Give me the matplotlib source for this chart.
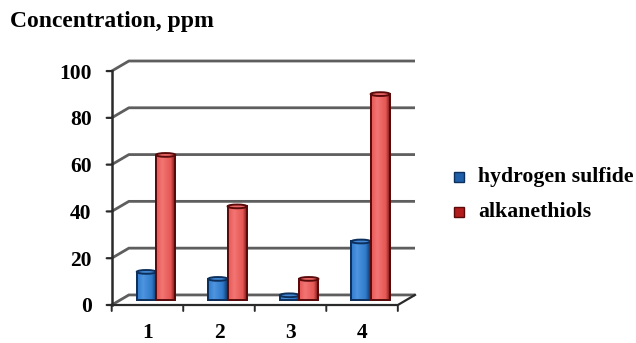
import matplotlib
matplotlib.use("Agg")
import matplotlib.pyplot as plt
import matplotlib.transforms as mtransforms
from matplotlib.colors import LinearSegmentedColormap
from matplotlib.patches import Ellipse, Rectangle
import numpy as np

categories = ["1", "2", "3", "4"]
hydrogen_sulfide = [12, 9, 2, 25]
alkanethiols = [62, 40, 9, 88]
y_ticks = [0, 20, 40, 60, 80, 100]
series_names = ["hydrogen sulfide", "alkanethiols"]
title = "Concentration, ppm"

plt.rcParams['font.family'] = ['Liberation Serif', 'DejaVu Serif']
plt.rcParams['font.weight'] = 'bold'

W, H = 636, 343
fig = plt.figure(figsize=(W / 100, H / 100), dpi=100)
ax = fig.add_axes([111.7 / W, 1 - 305 / H, (415 - 111.7) / W, (305 - 61) / H])

DX = 0.24   # depth of the chart box, in category units
DY = 4.3    # depth of the chart box, in value units
n = len(categories)
x0, x1 = 0.5, n + 0.5
ax.set_xlim(x0, x1 + DX)
ax.set_ylim(0, 100 + DY)
ax.axis('off')

grid_col = '#5e5e5e'
axis_col = '#2a2a2a'

# back wall gridlines with the short diagonal to the side wall
for v in y_ticks:
    ax.plot([x0, x0 + DX, x1 + DX], [v, v + DY, v + DY], color=grid_col,
            lw=2.0, clip_on=False, zorder=1, solid_capstyle='butt')

# floor front edge and right edge
ax.plot([x0, x1, x1 + DX], [0, 0, DY], color=axis_col, lw=1.6,
        clip_on=False, zorder=1)

# vertical value axis
ax.plot([x0, x0], [0, 100], color=axis_col, lw=1.8, clip_on=False, zorder=5)
# value ticks and labels
lab_tr = mtransforms.offset_copy(ax.transData, fig=fig, x=-20, y=0, units='dots')
for v in y_ticks:
    ax.annotate('', xy=(x0, v), xytext=(-5, 0), textcoords='offset pixels',
                arrowprops=dict(arrowstyle='-', color=axis_col, lw=1.6,
                                shrinkA=0, shrinkB=0))
    ax.text(x0, v, str(v), transform=lab_tr, ha='right', va='center_baseline',
            fontsize=15.5, fontweight='bold', color='black')

# category ticks below the floor
for k in range(n + 1):
    ax.annotate('', xy=(x0 + k, 0), xytext=(0, -6), textcoords='offset pixels',
                arrowprops=dict(arrowstyle='-', color=axis_col, lw=1.4,
                                shrinkA=0, shrinkB=0))
cat_tr = mtransforms.offset_copy(ax.transData, fig=fig, x=0, y=-26, units='dots')
for i, c in enumerate(categories):
    ax.text(i + 1, 0, c, transform=cat_tr, ha='center', va='center_baseline',
            fontsize=15.5, fontweight='bold', color='black')

# cylinder-like columns placed at mid depth
base = DY / 2
bw = 0.27
shift = DX / 2
styles = [
    dict(dark='#0d2f5c', mid='#2f7acb', light='#4f95df', top='#4288d4'),
    dict(dark='#5a0a0a', mid='#e55654', light='#f27674', top='#ec6866'),
]
grad = np.linspace(0, 1, 64).reshape(1, -1)
eh = 1.6
for s, (vals, st) in enumerate(zip([hydrogen_sulfide, alkanethiols], styles)):
    cmap = LinearSegmentedColormap.from_list(
        f'cyl{s}', [(0, st['mid']), (0.3, st['light']), (0.75, st['mid']),
                    (1, st['dark'])])
    centers = np.arange(1, n + 1) + shift + (s - 0.5) * bw
    bars = ax.bar(centers, vals, width=bw, bottom=base, color=st['mid'],
                  edgecolor=st['dark'], linewidth=1.3, zorder=3 + s)
    for rect, v in zip(bars, vals):
        bx, by = rect.get_x(), rect.get_y()
        im = ax.imshow(grad, extent=[bx, bx + bw, by, by + v], aspect='auto',
                       cmap=cmap, zorder=3 + s + 0.1, interpolation='bilinear')
        clip = Rectangle((bx, by), bw, v, transform=ax.transData)
        im.set_clip_path(clip)
        ax.add_patch(Rectangle((bx, by), bw, v, fill=False,
                               edgecolor=st['dark'], lw=1.4, zorder=3 + s + 0.2))
        ax.add_patch(Ellipse((bx + bw / 2, by + v), bw, eh, facecolor=st['top'],
                             edgecolor=st['dark'], lw=1.4, zorder=3 + s + 0.3))

ax.set_xlim(x0, x1 + DX)
ax.set_ylim(0, 100 + DY)

# title
fig.text(10 / W, 1 - 22 / H, title, ha='left', va='center', fontsize=17,
         fontweight='bold', color='black')

# legend
leg_y = [177, 212]
leg_col = ['#1f5fa8', '#b31c1c']
leg_edge = ['#0d2f5c', '#5a0a0a']
for name, yy, fc, ec in zip(series_names, leg_y, leg_col, leg_edge):
    fig.patches.append(Rectangle((454 / W, 1 - (yy + 5) / H), 10 / W, 10 / H,
                                 transform=fig.transFigure, facecolor=fc,
                                 edgecolor=ec, lw=1.0))
    fig.text(478 / W, 1 - yy / H, name, ha='left', va='center', fontsize=15.7,
             fontweight='bold', color='black')

fig.savefig('out.png', dpi=100, facecolor='white')
